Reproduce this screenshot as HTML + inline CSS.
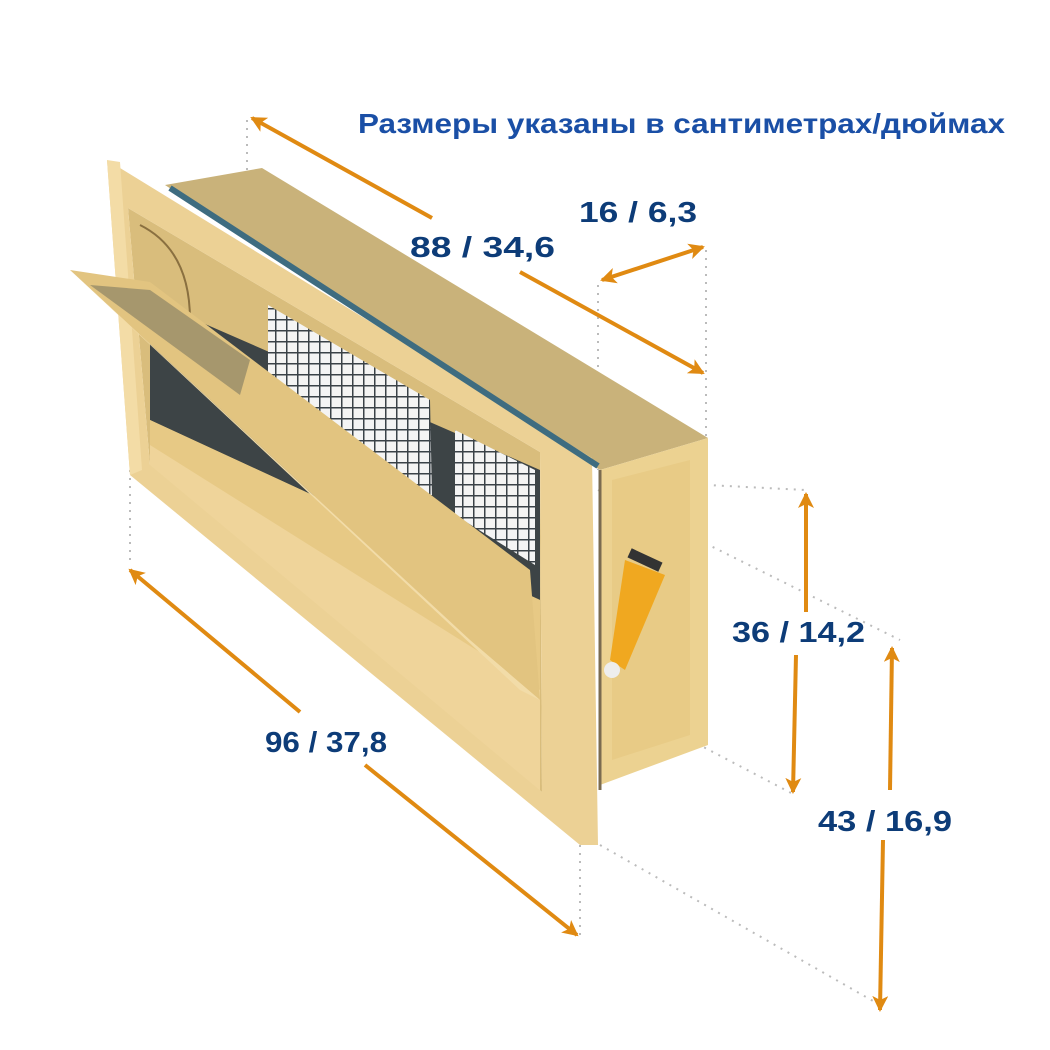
<!DOCTYPE html>
<html><head><meta charset="utf-8"><style>
body{margin:0;background:#fff;width:1050px;height:1050px;overflow:hidden}
svg{display:block}
text{font-family:"Liberation Sans","DejaVu Sans",sans-serif;font-weight:bold;fill:#0d3c78}
</style></head><body>
<svg width="1050" height="1050" viewBox="0 0 1050 1050" xmlns="http://www.w3.org/2000/svg">
<defs>
<pattern id="grid" width="11" height="11" patternUnits="userSpaceOnUse">
<rect width="11" height="11" fill="#f4f4f4"/>
<path d="M0 0H11M0 0V11" stroke="#3a4248" stroke-width="3"/>
</pattern>
<marker id="ah" markerWidth="16" markerHeight="16" refX="14" refY="8" orient="auto-start-reverse" markerUnits="userSpaceOnUse" viewBox="0 0 16 16"><path d="M0,0 L16,8 L0,16 L4,8z" fill="#e08a12"/></marker>
</defs>
<g stroke="#bbb" stroke-width="2" stroke-dasharray="2 6" fill="none">
<line x1="247" y1="120" x2="247" y2="170"/>
<line x1="706" y1="250" x2="706" y2="440"/>
<line x1="598" y1="285" x2="598" y2="470"/>
<line x1="130" y1="470" x2="130" y2="565"/>
<line x1="580" y1="845" x2="580" y2="935"/>
<line x1="610" y1="480" x2="805" y2="490"/>
<line x1="598" y1="490" x2="900" y2="640"/>
<line x1="690" y1="740" x2="795" y2="795"/>
<line x1="600" y1="845" x2="880" y2="1005"/>
</g>
<!-- box top face -->
<polygon points="165,185 262,168 708,438 600,470" fill="#c9b27a"/>
<!-- box side face -->
<polygon points="600,470 708,438 708,745 600,785" fill="#ecd291"/>
<polygon points="612,480 690,460 690,735 612,760" fill="#e8cb86"/>
<polygon points="625,560 665,575 625,670 610,660" fill="#f0a820"/>
<circle cx="612" cy="670" r="8" fill="#eee"/>
<rect x="628" y="555" width="34" height="10" fill="#333" transform="rotate(25 645 560)"/>
<line x1="600" y1="470" x2="600" y2="790" stroke="#7a6b50" stroke-width="3"/>
<!-- opening interior -->
<polygon points="128,208 540,452 542,792 150,465" fill="#d9bd7c"/>
<polygon points="150,300 540,470 540,600 150,420" fill="#3d4446"/>
<polygon points="268,305 430,400 432,498 268,400" fill="url(#grid)"/>
<polygon points="455,430 535,470 535,565 455,515" fill="url(#grid)"/>
<path d="M140,225 Q190,250 190,320" stroke="#8a7040" stroke-width="2" fill="none"/>
<polygon points="150,420 540,600 540,792 150,465" fill="#e7c985"/>
<polygon points="150,445 540,690 540,792 150,470" fill="#efd49a"/>
<!-- front frame -->
<path fill-rule="evenodd" fill="#ecd195" d="M107,160 L592,458 L598,845 L580,845 L130,475 Z M128,208 L540,452 L542,792 L150,465 Z"/>
<polygon points="107,160 120,162 142,470 130,475" fill="#f3dca6"/>
<line x1="170" y1="188" x2="598" y2="466" stroke="#3e6c80" stroke-width="6"/>
<!-- open flap -->
<polygon points="70,270 150,282 530,570 540,700 470,640" fill="#e2c480"/>
<polygon points="90,285 150,290 250,360 240,395" fill="#6a6a5a" opacity=".5"/>
<polygon points="70,270 470,640 540,700 520,690" fill="#f2dca8"/>
<!-- arrows -->
<g stroke="#e08a12" stroke-width="4" fill="none">
<line x1="252" y1="118" x2="432" y2="218" marker-start="url(#ah)"/>
<line x1="520" y1="272" x2="703" y2="373" marker-end="url(#ah)"/>
<line x1="602" y1="280" x2="703" y2="247" marker-start="url(#ah)" marker-end="url(#ah)"/>
<line x1="806" y1="494" x2="806" y2="612" marker-start="url(#ah)"/>
<line x1="796" y1="655" x2="793" y2="792" marker-end="url(#ah)"/>
<line x1="892" y1="648" x2="890" y2="790" marker-start="url(#ah)"/>
<line x1="883" y1="840" x2="880" y2="1010" marker-end="url(#ah)"/>
<line x1="130" y1="570" x2="300" y2="712" marker-start="url(#ah)"/>
<line x1="365" y1="765" x2="577" y2="935" marker-end="url(#ah)"/>
</g>
<text x="358" y="133" font-size="28" textLength="647" lengthAdjust="spacingAndGlyphs" style="fill:#1a4fa6">Размеры указаны в сантиметрах/дюймах</text>
<text x="579" y="222" font-size="29" textLength="118" lengthAdjust="spacingAndGlyphs">16 / 6,3</text>
<text x="410" y="257" font-size="29" textLength="145" lengthAdjust="spacingAndGlyphs">88 / 34,6</text>
<text x="732" y="642" font-size="29" textLength="133" lengthAdjust="spacingAndGlyphs">36 / 14,2</text>
<text x="818" y="831" font-size="29" textLength="134" lengthAdjust="spacingAndGlyphs">43 / 16,9</text>
<text x="265" y="752" font-size="29" textLength="122" lengthAdjust="spacingAndGlyphs">96 / 37,8</text>
</svg>
</body></html>
